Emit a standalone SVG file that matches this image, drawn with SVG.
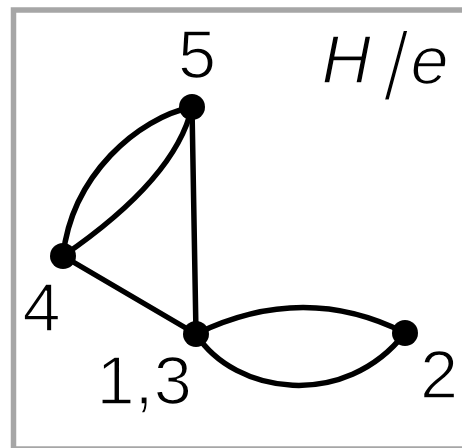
<svg xmlns="http://www.w3.org/2000/svg" width="462" height="448" viewBox="0 0 462 448">
<style>
.lbl{font-family:"Liberation Sans","Arial",sans-serif;font-size:68.5px;fill:#000;stroke:#fff;stroke-width:1.6px}
.it{font-style:italic}
.sl{font-size:98px;stroke-width:4px}
.e{fill:none;stroke:#000;stroke-width:5.5;stroke-linecap:round}
.n{fill:#000}
</style>
<rect x="0" y="0" width="462" height="448" fill="#fff"/>
<rect x="13.5" y="10" width="470" height="439" fill="none" stroke="#a6a6a6" stroke-width="5.5"/>
<g id="connectors">
<path class="e" d="M192,107 C138,118 72,175 63,256"/>
<path class="e" d="M192,107 C180,160 130,210 63,256"/>
<path class="e" d="M192,107 L196,334"/>
<path class="e" d="M63,256 L196,334"/>
<path class="e" d="M196,334 C270,298 340,300 405,333"/>
<path class="e" d="M196,334 C235,395 345,410 405,333"/>
</g>
<g id="node5"><circle class="n" cx="192" cy="107" r="13"/><text class="lbl" x="197" y="77.5" text-anchor="middle">5</text></g>
<g id="node4"><circle class="n" cx="63" cy="256" r="13"/><text class="lbl" x="41.5" y="330.5" text-anchor="middle">4</text></g>
<g id="node13"><circle class="n" cx="196" cy="334" r="13"/><text class="lbl" x="96.5" y="403.5">1,3</text></g>
<g id="node2"><circle class="n" cx="405" cy="333" r="13"/><text class="lbl" x="439" y="397.5" text-anchor="middle">2</text></g>
<g id="title">
<text class="lbl it" x="321.5" y="82.5">H</text>
<text class="lbl sl" x="396" y="100" text-anchor="middle">/</text>
<text class="lbl it" x="410.5" y="83.5">e</text>
</g>
</svg>
